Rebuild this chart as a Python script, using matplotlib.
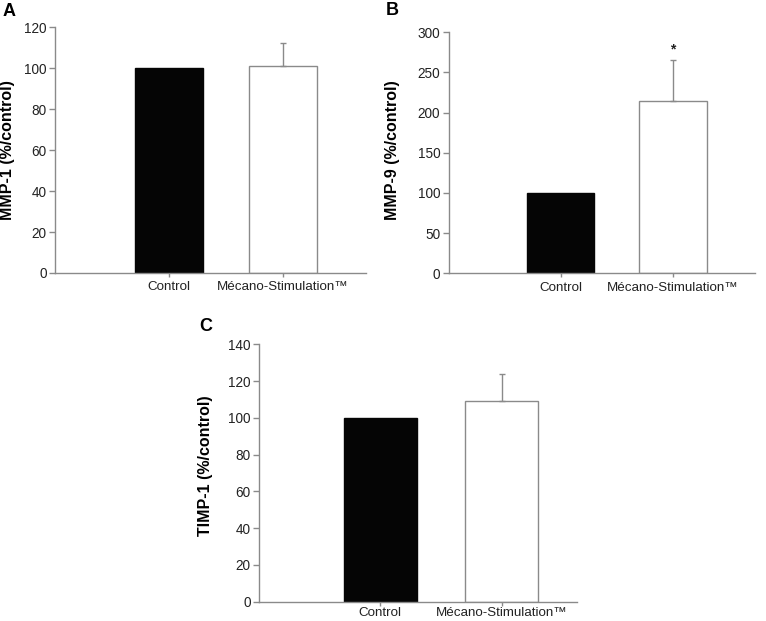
import numpy as np
import matplotlib.pyplot as plt

plt.rcParams['font.family'] = ['Liberation Sans', 'DejaVu Sans']

groups = ['Control', 'Mécano-Stimulation™']
mmp1 = [100, 101]
mmp1_err = [0, 11.5]
mmp9 = [100, 215]
mmp9_err = [0, 50]
timp1 = [100, 109]
timp1_err = [0, 15]

AXC = '#8a8a8a'
TXT = '#222222'

fig = plt.figure(figsize=(7.66, 6.21), dpi=100)


def panel(rect, vals, errs, ymax, step, ylabel, letter, letter_xy, lab_x, lab_y, xright,
          star=False, xpad=3):
    ax = fig.add_axes(rect)
    x = np.array([1, 2])
    ax.bar(x, vals, width=0.6, color=['#050505', 'white'],
           edgecolor=['#050505', AXC], linewidth=1.0, zorder=2)
    up = np.array(errs)
    ax.errorbar(x[1:], vals[1:], yerr=[[0], up[1:]], fmt='none', ecolor=AXC,
                elinewidth=1.0, capsize=2.5, capthick=1.0, zorder=3)
    if star:
        ax.text(x[1], vals[1] + errs[1] + 5, '*', ha='center', va='bottom',
                fontsize=10, fontweight='bold', color=TXT)
    ax.set_xlim(0, xright)
    ax.set_ylim(0, ymax)
    ax.set_yticks(np.arange(0, ymax + 1, step))
    ax.set_xticks(x)
    ax.set_xticklabels(groups)
    for s in ['top', 'right']:
        ax.spines[s].set_visible(False)
    for s in ['left', 'bottom']:
        ax.spines[s].set_color(AXC)
        ax.spines[s].set_linewidth(1.0)
    ax.tick_params(axis='y', colors=AXC, labelcolor=TXT, labelsize=9.8, length=4, width=1.0, pad=2)
    ax.tick_params(axis='x', colors=AXC, labelcolor=TXT, labelsize=9.6, length=3, width=1.0, pad=xpad)
    ax.set_ylabel(ylabel, fontsize=11.5, fontweight='bold', color='black')
    ax.yaxis.set_label_coords(lab_x, lab_y)
    fig.text(letter_xy[0], letter_xy[1], letter, fontsize=13, fontweight='bold',
             ha='left', va='top', color='black')
    return ax


panel([55 / 766, 1 - 273 / 621, 311 / 766, 245.7 / 621], mmp1, mmp1_err, 120, 20,
      'MMP-1 (%/control)', 'A', (3 / 766, 1 - 3 / 621), -0.129, 0.5, 2.73)
panel([448.7 / 766, 1 - 273.3 / 621, 306 / 766, 241 / 621], mmp9, mmp9_err, 300, 50,
      'MMP-9 (%/control)', 'B', (386 / 766, 1 - 2 / 621), -0.159, 0.51, 2.73, star=True)
panel([259 / 766, 1 - 601.5 / 621, 318 / 766, 257.2 / 621], timp1, timp1_err, 140, 20,
      'TIMP-1 (%/control)', 'C', (199 / 766, 1 - 318 / 621), -0.145, 0.528, 2.62, xpad=1)

fig.savefig('out.png', dpi=100, facecolor='white')
